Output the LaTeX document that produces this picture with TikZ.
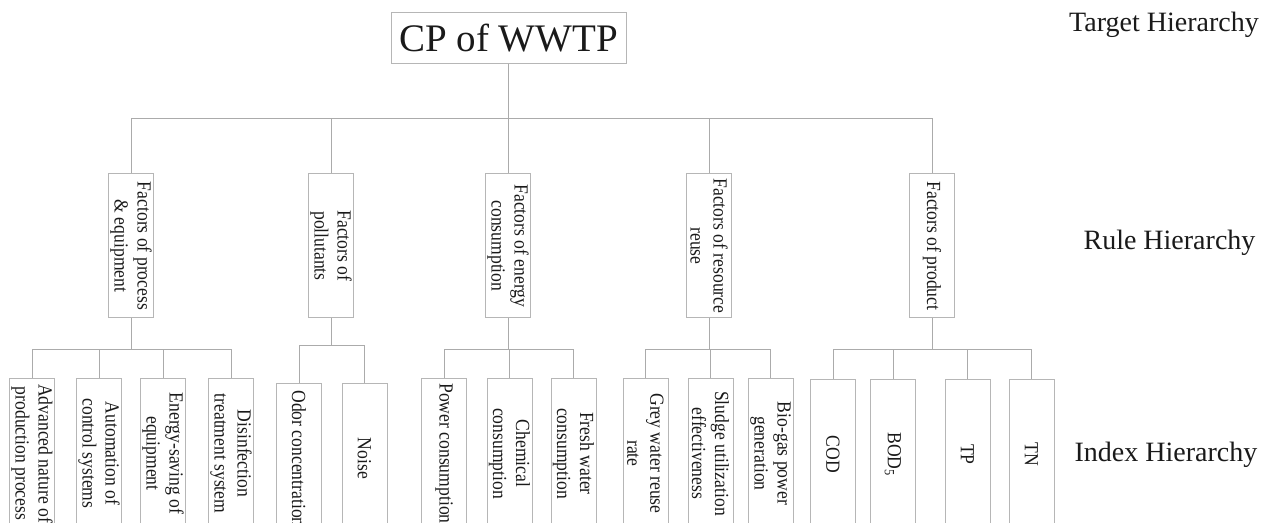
\documentclass[tikz,border=0pt]{standalone}
\usepackage{fontspec}
\setmainfont{Liberation Serif}
\newfontfamily\narrowserif[FakeStretch=0.88]{Liberation Serif}
\usepackage{xcolor}
\usepackage{tikz}
\usetikzlibrary{positioning}
\definecolor{linegray}{HTML}{ABABAB}
\definecolor{boxgray}{HTML}{B6B6B6}
\definecolor{textdark}{HTML}{1A1A1A}
\tikzset{
  conn/.style={linegray, line width=0.5pt},
  rootbox/.style={draw=boxgray, line width=0.5pt, text=textdark, minimum width=117.5pt, minimum height=25.5pt, inner sep=0pt, font=\fontsize{19.5}{22}\selectfont},
  rulebox/.style={draw=boxgray, line width=0.5pt, text=textdark, rotate=-90, minimum width=72pt, minimum height=22.5pt, inner sep=0.5pt, align=center, font=\narrowserif\fontsize{10}{11.5}\selectfont},
  indexbox/.style={rulebox, minimum width=75pt, anchor=west},
  levellabel/.style={text=textdark, inner sep=0pt, font=\fontsize{14}{16}\selectfont}
}

\begin{document}
\begin{tikzpicture}[x=0.5pt, y=-0.5pt]
  \useasboundingbox (0,0) rectangle (1265,523);
  \clip (0,0) rectangle (1265,523);

  \node[rootbox] (root) at (508.5,38.5) {CP of WWTP};

  \node[rulebox] (rule1) at (131,246) {Factors of process\\\& equipment};
  \node[rulebox] (rule2) at (331,246) {Factors of\\pollutants};
  \node[rulebox] (rule3) at (508,246) {Factors of energy\\consumption};
  \node[rulebox] (rule4) at (709,246) {Factors of resource\\reuse};
  \node[rulebox] (rule5) at (932,246) {Factors of product};

  \node[indexbox] (proc1) at (32,378) {Advanced nature of\\production process};
  \node[indexbox] (proc2) at (99,378) {Automation of\\control systems};
  \node[indexbox] (proc3) at (163,378) {Energy-saving of\\equipment};
  \node[indexbox] (proc4) at (231,378) {Disinfection\\treatment system};

  \node[indexbox] (poll1) at (299,383) {Odor concentration};
  \node[indexbox] (poll2) at (364.5,383) {Noise};

  \node[indexbox] (ener1) at (444,378) {Power consumption};
  \node[indexbox] (ener2) at (509.5,378) {Chemical\\consumption};
  \node[indexbox] (ener3) at (573.5,378) {Fresh water\\consumption};

  \node[indexbox] (reus1) at (645.5,378) {Grey water reuse\\rate};
  \node[indexbox] (reus2) at (710.5,378) {Sludge utilization\\effectiveness};
  \node[indexbox] (reus3) at (770.5,378) {Bio-gas power\\generation};

  \node[indexbox] (prod1) at (833,379) {COD};
  \node[indexbox] (prod2) at (893,379) {BOD\textsubscript{5}};
  \node[indexbox] (prod3) at (967.5,379) {TP};
  \node[indexbox] (prod4) at (1031.5,379) {TN};

  \coordinate (rootbus) at (508.5,119);
  \draw[conn] (root.south) -- (rootbus);
  \foreach \r in {rule1,rule2,rule3,rule4,rule5}
    \draw[conn] (rootbus) -| (\r.west);

  \coordinate (bus1) at (131,350);
  \coordinate (bus2) at (331,346);
  \coordinate (bus3) at (508,350);
  \coordinate (bus4) at (709,350);
  \coordinate (bus5) at (932,350);
  \foreach \b/\r in {bus1/rule1,bus2/rule2,bus3/rule3,bus4/rule4,bus5/rule5}
    \draw[conn] (\r.east) -- (\b);
  \foreach \i in {proc1,proc2,proc3,proc4}
    \draw[conn] (bus1) -| (\i.west);
  \foreach \i in {poll1,poll2}
    \draw[conn] (bus2) -| (\i.west);
  \foreach \i in {ener1,ener2,ener3}
    \draw[conn] (bus3) -| (\i.west);
  \foreach \i in {reus1,reus2,reus3}
    \draw[conn] (bus4) -| (\i.west);
  \foreach \i in {prod1,prod2,prod3,prod4}
    \draw[conn] (bus5) -| (\i.west);

  \node[levellabel] (target) at (1164,25) {Target Hierarchy};
  \node[levellabel] (rulelev) at (1169.5,243) {Rule Hierarchy};
  \node[levellabel] (indexlev) at (1166,455) {Index Hierarchy};
\end{tikzpicture}
\end{document}
